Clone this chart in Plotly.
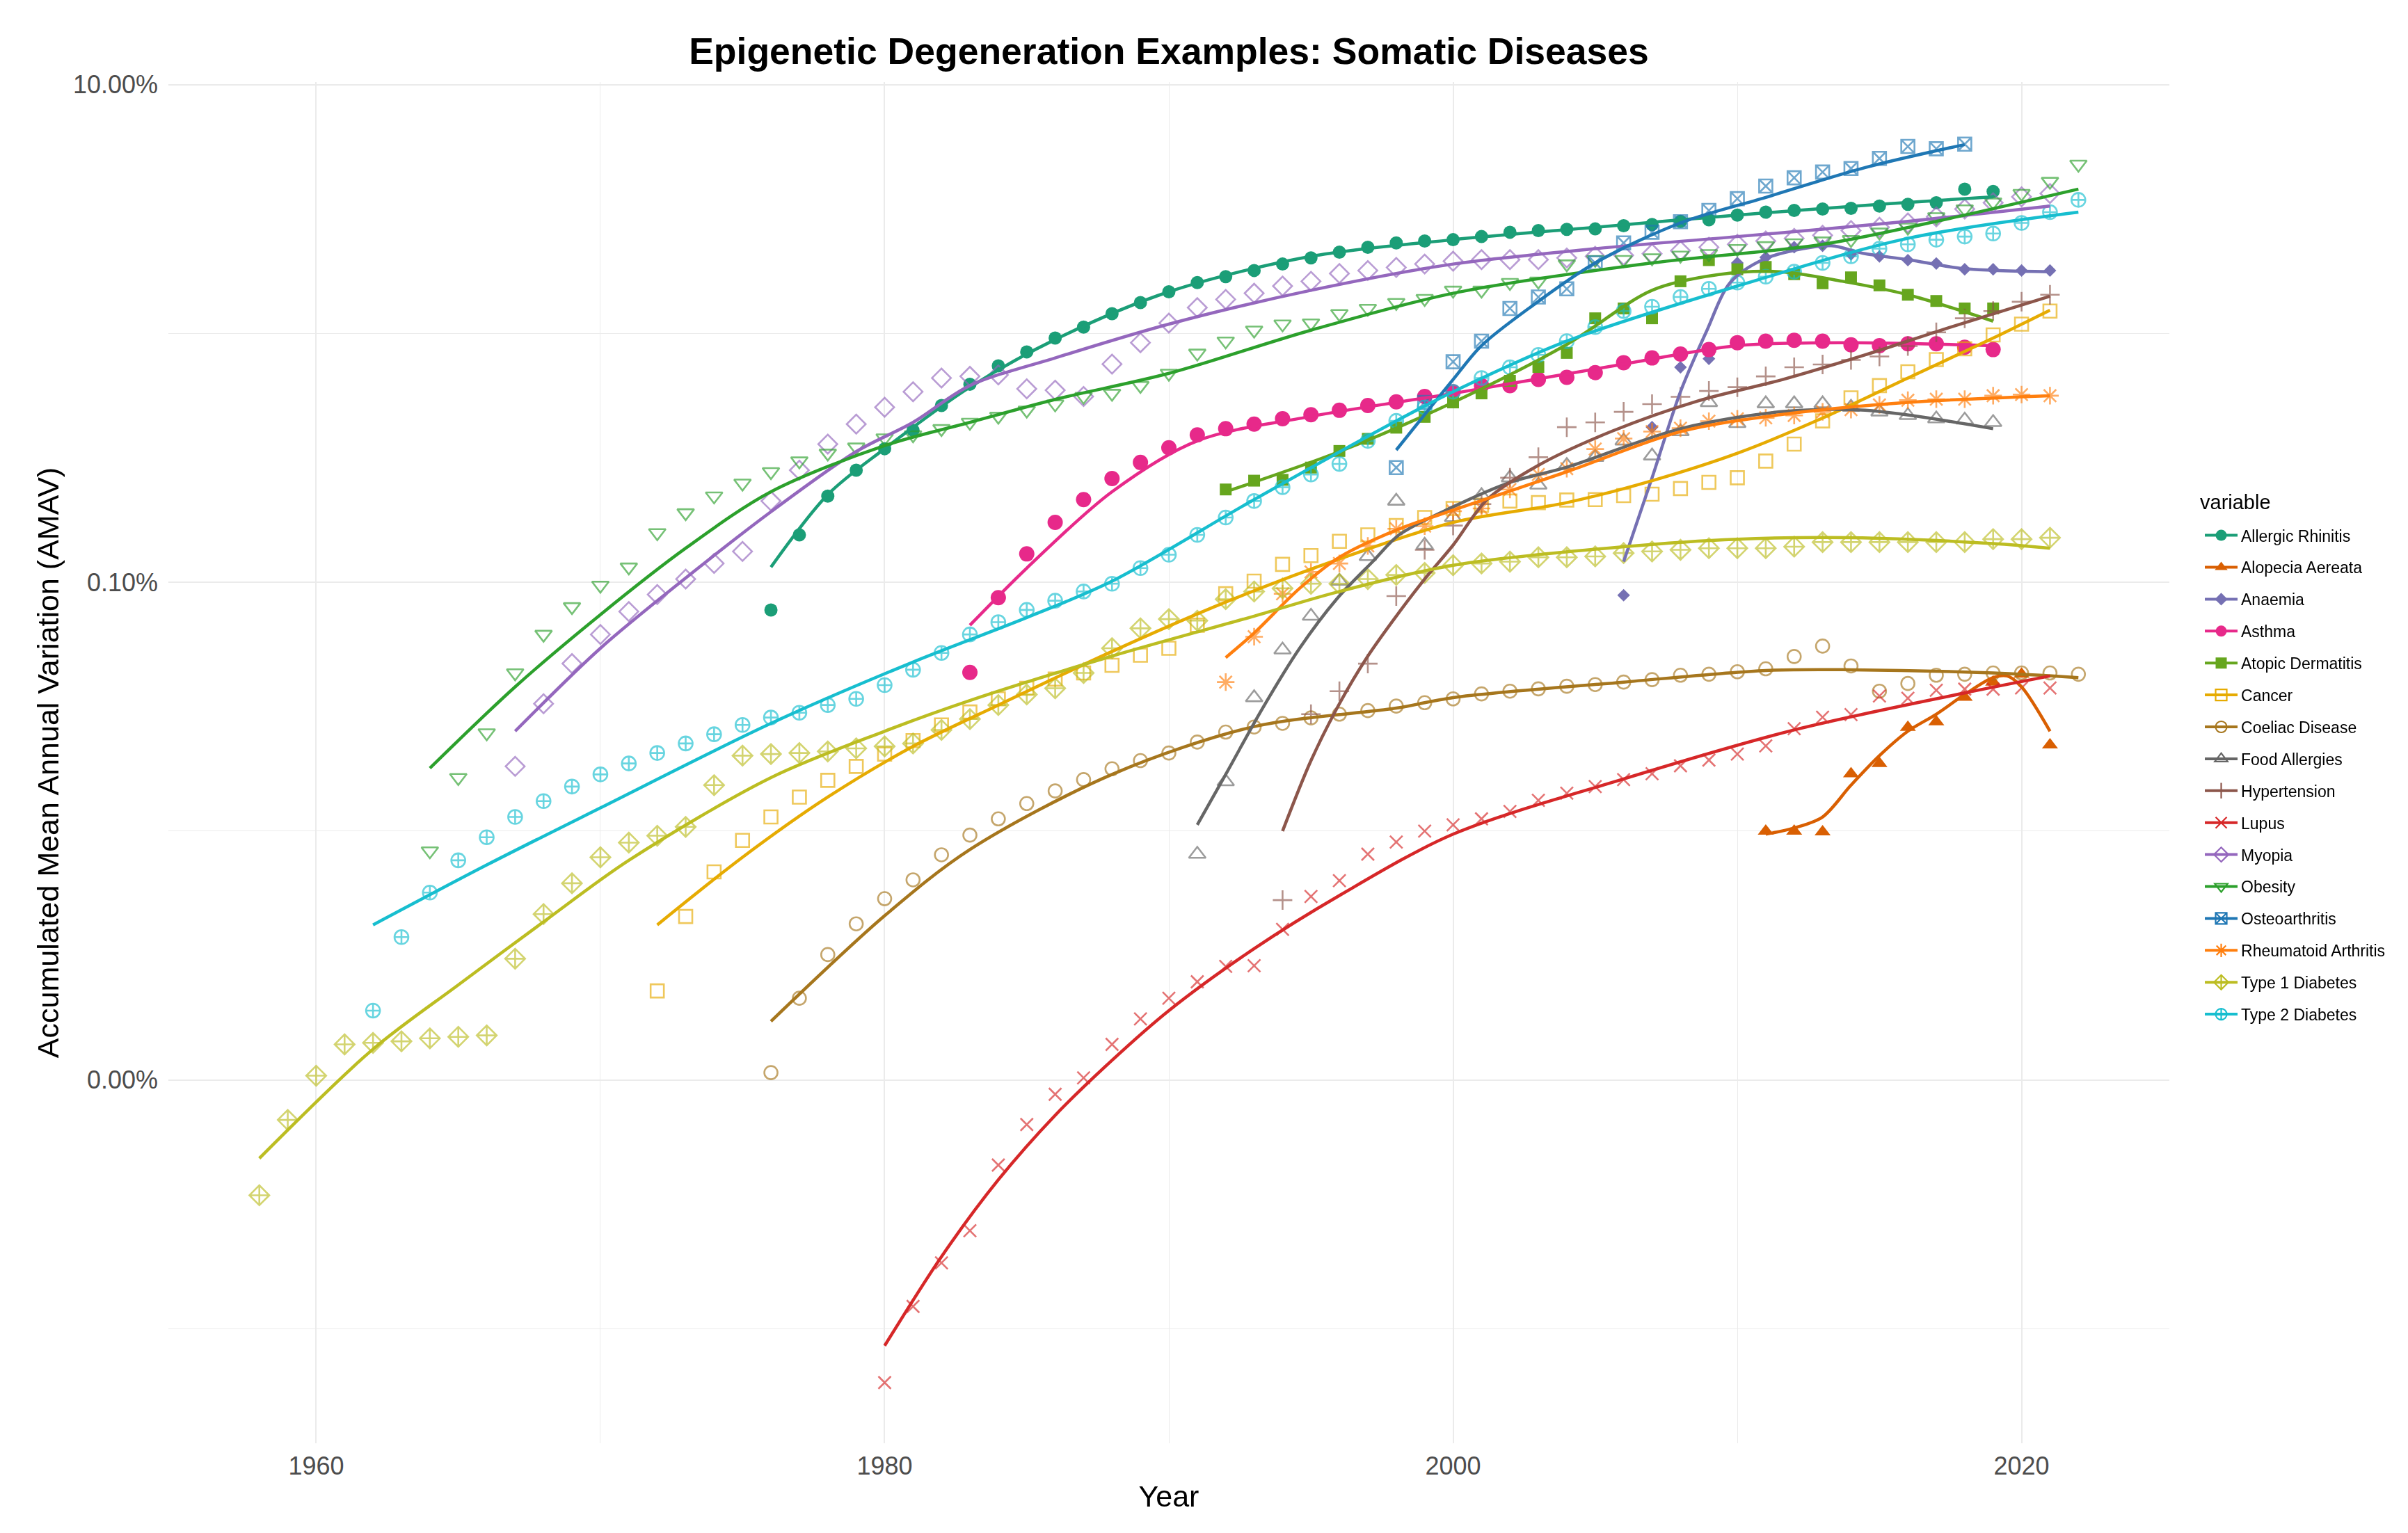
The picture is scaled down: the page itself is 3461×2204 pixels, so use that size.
import plotly.graph_objects as go

# values, in percent (AMAV)
names = ['Allergic Rhinitis', 'Alopecia Aereata', 'Anaemia', 'Asthma', 'Atopic Dermatitis',
         'Cancer', 'Coeliac Disease', 'Food Allergies', 'Hypertension', 'Lupus', 'Myopia',
         'Obesity', 'Osteoarthritis', 'Rheumatoid Arthritis', 'Type 1 Diabetes', 'Type 2 Diabetes']

colors = ['#1B9E77', '#D95F02', '#7570B3', '#E7298A', '#66A61E', '#E6AB02', '#A6761D', '#666666',
          '#8C564B', '#D62728', '#9467BD', '#2CA02C', '#1F77B4', '#FF7F0E', '#BCBD22', '#17BECF']

symbols = ['circle', 'triangle-up', 'diamond', 'circle', 'square', 'square-open', 'circle-open',
           'triangle-up-open', 'cross-thin-open', 'x-thin-open', 'diamond-open', 'triangle-down-open',
           'square-x-open', 'asterisk-open', 'diamond-cross-open', 'circle-cross-open']

sizes = [19, 20, 14, 22, 17, 19, 19, 21, 20, 18, 21, 21, 19, 21, 22, 20]

# ---- observed points ----
ar_years = list(range(1976, 2020))
ar_vals = [0.0774, 0.155, 0.222, 0.282, 0.344, 0.408, 0.513, 0.625, 0.741, 0.843,
           0.958, 1.06, 1.20, 1.33, 1.47, 1.60, 1.69, 1.79, 1.90, 2.01,
           2.12, 2.22, 2.31, 2.35, 2.38, 2.45, 2.55, 2.59, 2.62, 2.63,
           2.71, 2.74, 2.82, 2.86, 2.99, 3.07, 3.12, 3.16, 3.18, 3.25,
           3.30, 3.35, 3.80, 3.72]

alo_years = list(range(2011, 2022))
alo_vals = [0.0100, 0.0100, 0.00993, 0.0170, 0.0187, 0.0261, 0.0275, 0.0345, 0.0397, 0.0427, 0.0222]

ana_years = list(range(2006, 2022))
ana_vals = [0.0887, 0.420, 0.731, 0.791, 1.92, 2.02, 2.22, 2.25, 2.08, 2.04, 1.97, 1.91, 1.81, 1.81, 1.79, 1.79]

ast_years = list(range(1983, 2020))
ast_vals = [0.0434, 0.0867, 0.130, 0.174, 0.215, 0.261, 0.303, 0.347, 0.391, 0.414,
            0.432, 0.454, 0.471, 0.491, 0.513, 0.531, 0.558, 0.583, 0.617, 0.617,
            0.653, 0.666, 0.696, 0.763, 0.797, 0.826, 0.861, 0.918, 0.931, 0.939,
            0.931, 0.900, 0.893, 0.909, 0.909, 0.880, 0.861]

ad_years = list(range(1992, 2020))
ad_vals = [0.236, 0.256, 0.258, 0.289, 0.337, 0.377, 0.418, 0.462, 0.528, 0.574,
           0.645, 0.733, 0.835, 1.15, 1.26, 1.15, 1.62, 1.97, 1.81, 1.85,
           1.73, 1.59, 1.68, 1.56, 1.43, 1.35, 1.26, 1.26]

can_years = list(range(1972, 2022))
can_vals = [0.00228, 0.00454, 0.00686, 0.00918, 0.0114, 0.0137, 0.0160, 0.0182, 0.0204, 0.0231,
            0.0267, 0.0301, 0.0340, 0.0375, 0.0408, 0.0432, 0.0464, 0.0509, 0.0543, 0.0672,
            0.0899, 0.101, 0.118, 0.128, 0.146, 0.155, 0.169, 0.182, 0.198, 0.204,
            0.212, 0.209, 0.214, 0.215, 0.223, 0.226, 0.238, 0.252, 0.263, 0.307,
            0.359, 0.445, 0.551, 0.617, 0.701, 0.785, 0.867, 0.986, 1.09, 1.23]

coe_years = list(range(1976, 2023))
coe_vals = [0.00107, 0.00213, 0.00319, 0.00424, 0.00535, 0.00637, 0.00803, 0.00964, 0.0112, 0.0129,
            0.0145, 0.0161, 0.0178, 0.0192, 0.0206, 0.0228, 0.0250, 0.0262, 0.0271, 0.0285,
            0.0295, 0.0305, 0.0318, 0.0328, 0.0340, 0.0356, 0.0365, 0.0373, 0.0382, 0.0388,
            0.0397, 0.0406, 0.0423, 0.0427, 0.0437, 0.0449, 0.0503, 0.0554, 0.0461, 0.0365,
            0.0392, 0.0423, 0.0427, 0.0432, 0.0432, 0.0432, 0.0427]

fa_years = list(range(1991, 2020))
fa_vals = [0.00808, 0.0158, 0.0344, 0.0535, 0.0731, 0.101, 0.127, 0.212, 0.141, 0.182,
           0.223, 0.263, 0.246, 0.295, 0.318, 0.370, 0.322, 0.403, 0.528, 0.435,
           0.522, 0.522, 0.522, 0.505, 0.484, 0.468, 0.454, 0.449, 0.439]

hyp_years = list(range(1994, 2022))
hyp_vals = [0.00528, 0.0295, 0.0365, 0.0471, 0.0880, 0.135, 0.169, 0.206, 0.263, 0.318,
            0.420, 0.439, 0.484, 0.520, 0.556, 0.587, 0.608, 0.672, 0.731, 0.750,
            0.782, 0.808, 0.890, 1.01, 1.15, 1.23, 1.34, 1.43]

lup_years = list(range(1980, 2022))
lup_vals = [0.0000608, 0.000123, 0.000184, 0.000248, 0.000455, 0.000662, 0.000876, 0.00102, 0.00139, 0.00176,
            0.00213, 0.00248, 0.00286, 0.00288, 0.00403, 0.00546, 0.00632, 0.00808, 0.00904, 0.0100,
            0.0106, 0.0112, 0.0120, 0.0133, 0.0142, 0.0151, 0.0161, 0.0170, 0.0183, 0.0193,
            0.0204, 0.0220, 0.0258, 0.0287, 0.0294, 0.0349, 0.0342, 0.0368, 0.0372, 0.0372,
            0.0376, 0.0376]

myo_years = list(range(1967, 2022))
myo_vals = [0.0182, 0.0325, 0.0471, 0.0617, 0.0763, 0.0893, 0.103, 0.119, 0.133, 0.212,
            0.282, 0.359, 0.432, 0.505, 0.583, 0.662, 0.672, 0.681, 0.599, 0.591,
            0.558, 0.753, 0.918, 1.10, 1.27, 1.37, 1.45, 1.55, 1.62, 1.74,
            1.79, 1.84, 1.90, 1.95, 1.98, 1.98, 1.98, 2.01, 2.04, 2.06,
            2.09, 2.15, 2.22, 2.28, 2.35, 2.41, 2.48, 2.59, 2.67, 2.78,
            2.94, 3.16, 3.35, 3.54, 3.65]

obe_years = list(range(1964, 2023))
obe_vals = [0.00832, 0.0164, 0.0248, 0.0432, 0.0617, 0.0797, 0.0972, 0.115, 0.158, 0.190,
            0.222, 0.250, 0.278, 0.307, 0.330, 0.349, 0.380, 0.391, 0.414, 0.439,
            0.464, 0.491, 0.520, 0.558, 0.574, 0.617, 0.691, 0.832, 0.931, 1.03,
            1.09, 1.10, 1.20, 1.26, 1.33, 1.38, 1.49, 1.49, 1.60, 1.62,
            1.90, 1.98, 1.98, 2.01, 2.06, 2.09, 2.19, 2.25, 2.31, 2.35,
            2.38, 2.55, 2.67, 2.94, 3.16, 3.37, 3.65, 4.08, 4.78]

ost_years = list(range(1998, 2019))
ost_vals = [0.289, 0.528, 0.769, 0.931, 1.26, 1.40, 1.51, 1.92, 2.31, 2.55,
            2.81, 3.12, 3.48, 3.91, 4.22, 4.45, 4.60, 5.05, 5.64, 5.52, 5.76]

ra_years = list(range(1992, 2022))
ra_vals = [0.0397, 0.0604, 0.0899, 0.110, 0.119, 0.140, 0.164, 0.168, 0.193, 0.198,
           0.236, 0.271, 0.286, 0.343, 0.378, 0.403, 0.416, 0.444, 0.454, 0.458,
           0.468, 0.484, 0.494, 0.516, 0.539, 0.544, 0.544, 0.562, 0.568, 0.562]

t1_years = list(range(1958, 2022))
t1_vals = [0.000344, 0.000691, 0.00104, 0.00139, 0.00141, 0.00143, 0.00147, 0.00149, 0.00151, 0.00307,
           0.00464, 0.00617, 0.00785, 0.00899, 0.00958, 0.0104, 0.0153, 0.0201, 0.0204, 0.0206,
           0.0209, 0.0215, 0.0219, 0.0225, 0.0255, 0.0282, 0.0321, 0.0354, 0.0375, 0.0432,
           0.0543, 0.0653, 0.0711, 0.0701, 0.0855, 0.0918, 0.0945, 0.0986, 0.0986, 0.103,
           0.107, 0.109, 0.117, 0.119, 0.121, 0.126, 0.126, 0.127, 0.131, 0.133,
           0.135, 0.137, 0.137, 0.137, 0.139, 0.145, 0.145, 0.145, 0.145, 0.145,
           0.145, 0.149, 0.149, 0.151]

t2_years = list(range(1962, 2023))
t2_vals = [0.00190, 0.00375, 0.00566, 0.00763, 0.00945, 0.0114, 0.0132, 0.0151, 0.0169, 0.0187,
           0.0206, 0.0225, 0.0245, 0.0267, 0.0286, 0.0299, 0.0321, 0.0340, 0.0386, 0.0445,
           0.0520, 0.0617, 0.0691, 0.0774, 0.0843, 0.0918, 0.0986, 0.114, 0.129, 0.155,
           0.182, 0.212, 0.241, 0.271, 0.299, 0.370, 0.445, 0.505, 0.583, 0.662,
           0.731, 0.820, 0.931, 1.06, 1.23, 1.28, 1.40, 1.51, 1.60, 1.69,
           1.77, 1.92, 2.04, 2.19, 2.28, 2.38, 2.45, 2.52, 2.78, 3.07, 3.44]

# ---- smoothed trend lines ----
ar_fit_x = [1976, 1978, 1980, 1983, 1986, 1990, 1995, 2000, 2005, 2010, 2015, 2019]
ar_fit_y = [0.115, 0.225, 0.344, 0.608, 0.945, 1.47, 2.04, 2.38, 2.67, 2.99, 3.30, 3.54]

alo_fit_x = [2011, 2012, 2013, 2014, 2015, 2016, 2017, 2018, 2019, 2019.5, 2020, 2021]
alo_fit_y = [0.00972, 0.0103, 0.0114, 0.0153, 0.0201, 0.0252, 0.0295, 0.0354, 0.0414, 0.0420, 0.0380, 0.0252]

ana_fit_x = [2006, 2007, 2008, 2008.9, 2009.75, 2010.9, 2012.3, 2013.3, 2014.5, 2016, 2018, 2021]
ana_fit_y = [0.121, 0.263, 0.583, 1.01, 1.60, 1.98, 2.19, 2.25, 2.09, 1.98, 1.82, 1.77]

ast_fit_x = [1983, 1985, 1988, 1991, 1995, 2000, 2006, 2010, 2014, 2019]
ast_fit_y = [0.0672, 0.114, 0.231, 0.370, 0.464, 0.574, 0.753, 0.893, 0.918, 0.893]

ad_fit_x = [1992, 1996, 2000, 2004, 2007, 2009.3, 2011.5, 2013.7, 2016, 2019]
ad_fit_y = [0.231, 0.335, 0.528, 0.903, 1.49, 1.72, 1.77, 1.62, 1.43, 1.12]

can_fit_x = [1972, 1975, 1978, 1981, 1984, 1988, 1992, 1996, 2000, 2004, 2007, 2010, 2013, 2016, 2019, 2021]
can_fit_y = [0.00420, 0.00785, 0.0137, 0.0219, 0.0321, 0.0527, 0.0832, 0.124, 0.174, 0.209, 0.256, 0.330, 0.457, 0.662, 0.958, 1.24]

coe_fit_x = [1976, 1980, 1983, 1988, 1993, 1998, 2000, 2006, 2011, 2014, 2019, 2022]
coe_fit_y = [0.00172, 0.00457, 0.00843, 0.0169, 0.0263, 0.0312, 0.0344, 0.0397, 0.0442, 0.0445, 0.0432, 0.0414]

fa_fit_x = [1991, 1992, 1993.3, 1994.6, 1995.9, 1997.2, 1998.1, 2000, 2002, 2004, 2008, 2011.5, 2014.5, 2019]
fa_fit_y = [0.0106, 0.0169, 0.0312, 0.0543, 0.0855, 0.122, 0.155, 0.201, 0.252, 0.290, 0.414, 0.484, 0.491, 0.414]

hyp_fit_x = [1994, 1995, 1996, 1997, 1998, 1999, 2000, 2001.2, 2003, 2005.6, 2008.6, 2011.6, 2014.5, 2017.5, 2021]
hyp_fit_y = [0.0100, 0.0192, 0.0325, 0.0505, 0.0731, 0.103, 0.141, 0.215, 0.295, 0.405, 0.535, 0.653, 0.820, 1.06, 1.41]

lup_fit_x = [1980, 1982, 1984, 1986, 1988, 1990, 1993, 1996, 2000, 2006, 2012, 2018, 2021]
lup_fit_y = [0.0000855, 0.000195, 0.000397, 0.000721, 0.00120, 0.00190, 0.00337, 0.00551, 0.00972, 0.0162, 0.0255, 0.0359, 0.0420]

myo_fit_x = [1967, 1970, 1973, 1976, 1979, 1981, 1983, 1986, 1990, 1995, 2000, 2005, 2010, 2016, 2021]
myo_fit_y = [0.0252, 0.0543, 0.104, 0.192, 0.335, 0.439, 0.617, 0.797, 1.09, 1.49, 1.90, 2.19, 2.45, 2.82, 3.25]

obe_fit_x = [1964, 1967, 1970, 1973, 1976, 1980, 1983, 1986, 1990, 1995, 2000, 2007, 2013, 2017, 2022]
obe_fit_y = [0.0179, 0.0380, 0.0741, 0.137, 0.231, 0.354, 0.439, 0.543, 0.691, 1.03, 1.45, 1.92, 2.28, 2.82, 3.80]

ost_fit_x = [1998, 2000, 2001, 2002.7, 2005, 2008, 2011, 2014.5, 2018]
ost_fit_y = [0.340, 0.653, 0.893, 1.27, 1.92, 2.78, 3.52, 4.64, 5.74]

ra_fit_x = [1992, 1993, 1994.6, 1996, 1998, 2000, 2004, 2008, 2011.5, 2016, 2021]
ra_fit_y = [0.0498, 0.0625, 0.0945, 0.126, 0.162, 0.195, 0.278, 0.403, 0.471, 0.528, 0.562]

t1_fit_x = [1958, 1962, 1965, 1968, 1971, 1976, 1980, 1983, 1988, 1993, 1996, 2000, 2006, 2010, 2014, 2019, 2021]
t1_fit_y = [0.000484, 0.00133, 0.00241, 0.00432, 0.00763, 0.0164, 0.0252, 0.0335, 0.0505, 0.0731, 0.0918, 0.117, 0.139, 0.149, 0.151, 0.143, 0.137]

t2_fit_x = [1962, 1966, 1970, 1976, 1981, 1985, 1988, 1993, 1998, 2000, 2004, 2010, 2016, 2022]
t2_fit_y = [0.00420, 0.00731, 0.0124, 0.0271, 0.0478, 0.0721, 0.101, 0.215, 0.445, 0.583, 0.931, 1.55, 2.41, 3.07]

points = [(ar_years, ar_vals), (alo_years, alo_vals), (ana_years, ana_vals), (ast_years, ast_vals),
          (ad_years, ad_vals), (can_years, can_vals), (coe_years, coe_vals), (fa_years, fa_vals),
          (hyp_years, hyp_vals), (lup_years, lup_vals), (myo_years, myo_vals), (obe_years, obe_vals),
          (ost_years, ost_vals), (ra_years, ra_vals), (t1_years, t1_vals), (t2_years, t2_vals)]

fits = [(ar_fit_x, ar_fit_y), (alo_fit_x, alo_fit_y), (ana_fit_x, ana_fit_y), (ast_fit_x, ast_fit_y),
        (ad_fit_x, ad_fit_y), (can_fit_x, can_fit_y), (coe_fit_x, coe_fit_y), (fa_fit_x, fa_fit_y),
        (hyp_fit_x, hyp_fit_y), (lup_fit_x, lup_fit_y), (myo_fit_x, myo_fit_y), (obe_fit_x, obe_fit_y),
        (ost_fit_x, ost_fit_y), (ra_fit_x, ra_fit_y), (t1_fit_x, t1_fit_y), (t2_fit_x, t2_fit_y)]

fig = go.Figure()

# points first, smooth lines on top (like ggplot layers)
for name, col, sym, sz, (xs, vs) in zip(names, colors, symbols, sizes, points):
    is_open = sym.endswith('-open')
    fig.add_trace(go.Scatter(
        x=xs, y=[v / 100 for v in vs], mode='markers', name=name, legendgroup=name, showlegend=False,
        opacity=0.65 if is_open else 1.0,
        marker=dict(symbol=sym, size=sz, color=col, line=dict(color=col, width=2.6 if is_open else 0))))

for name, col, (xs, vs) in zip(names, colors, fits):
    fig.add_trace(go.Scatter(
        x=xs, y=[v / 100 for v in vs], mode='lines', name=name, legendgroup=name, showlegend=False,
        line=dict(color=col, width=4.5, shape='spline', smoothing=0.9)))

# legend keys: line + point, like ggplot
for name, col, sym, sz in zip(names, colors, symbols, sizes):
    is_open = sym.endswith('-open')
    fig.add_trace(go.Scatter(
        x=[None], y=[None], mode='lines+markers', name=name, legendgroup=name,
        line=dict(color=col, width=4),
        marker=dict(symbol=sym, size=min(sz, 18), color=col, line=dict(color=col, width=2.2 if is_open else 0))))

grid = '#EBEBEB'
W, H = 3445, 2188
L, R, T, B = 234, 335, 110, 121

fig.update_layout(
    width=W, height=H,
    margin=dict(l=L, r=R, t=T, b=B),
    paper_bgcolor='white', plot_bgcolor='white',
    font=dict(family='Liberation Sans, Arial, sans-serif', color='#4D4D4D'),
    title=dict(text='<b>Epigenetic Degeneration Examples: Somatic Diseases</b>',
               x=(L + W - R) / 2 / W, xanchor='center', y=1 - 65 / H, yanchor='middle',
               font=dict(size=53.5, color='black')),
    legend=dict(font=dict(size=23, color='black'),
                x=1.016, xanchor='left', y=0.678, yanchor='top',
                tracegroupgap=13, itemwidth=47, bgcolor='rgba(0,0,0,0)'),
    annotations=[dict(text='variable', xref='paper', yref='paper', x=1.0146, y=0.6914,
                      xanchor='left', yanchor='middle', showarrow=False,
                      font=dict(size=29, color='black'))],
)

fig.update_xaxes(
    range=[1954.8, 2025.2], tickvals=[1960, 1980, 2000, 2020], ticks='',
    showgrid=True, gridcolor=grid, gridwidth=2.4, zeroline=False, showline=False,
    tickfont=dict(size=36, color='#4D4D4D'), ticklabelstandoff=8,
    title=dict(text='Year', font=dict(size=43, color='black'), standoff=8),
    minor=dict(tickvals=[1970, 1990, 2010], showgrid=True, gridcolor=grid, gridwidth=1.2))

fig.update_yaxes(
    type='log', range=[-6.46, -0.99],
    tickvals=[0.00001, 0.001, 0.1], ticktext=['0.00%', '0.10%', '10.00%'], ticks='',
    showgrid=True, gridcolor=grid, gridwidth=2.4, zeroline=False, showline=False,
    tickfont=dict(size=36, color='#4D4D4D'), ticklabelstandoff=14,
    title=dict(text='Accumulated Mean Annual Variation (AMAV)', font=dict(size=43, color='black'), standoff=6),
    minor=dict(tickvals=[0.000001, 0.0001, 0.01], showgrid=True, gridcolor=grid, gridwidth=1.2))

fig.write_html('out.html')
